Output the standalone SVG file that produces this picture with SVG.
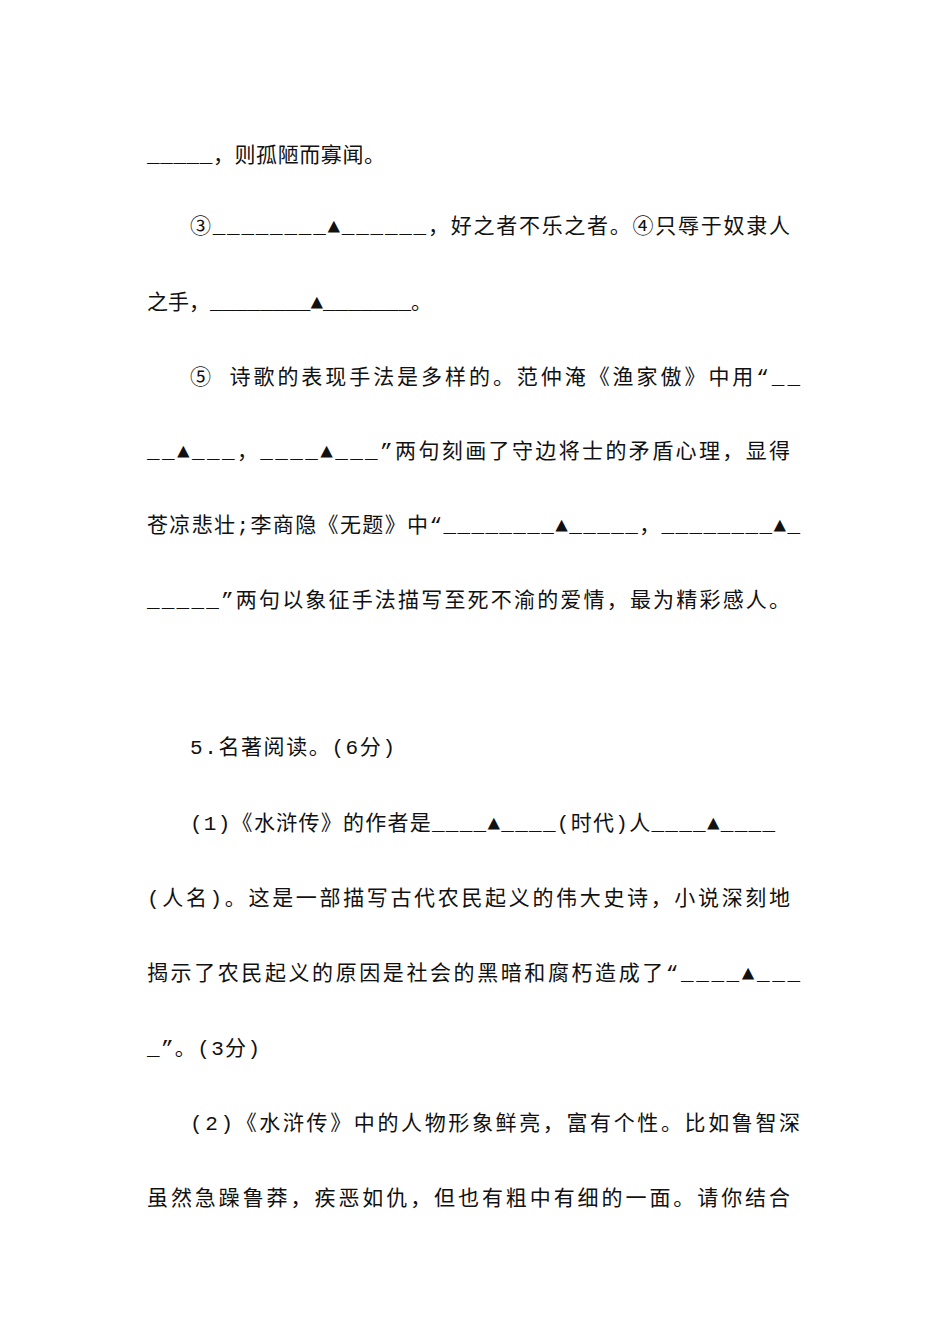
<svg xmlns="http://www.w3.org/2000/svg" width="950" height="1344" viewBox="0 0 950 1344">
<style>
text{font-family:"Liberation Mono","Noto Sans CJK SC",monospace;font-size:21px;fill:#111;}
</style>
<rect width="950" height="1344" fill="#fff"/>
<text x="147" y="162" textLength="238" lengthAdjust="spacing">_____，则孤陋而寡闻。</text>
<text x="190" y="233" textLength="600" lengthAdjust="spacing">③________▲______，好之者不乐之者。④只辱于奴隶人</text>
<text x="147" y="309" textLength="285" lengthAdjust="spacing">之手，________▲_______。</text>
<text x="190" y="384" textLength="610" lengthAdjust="spacing">⑤ 诗歌的表现手法是多样的。范仲淹《渔家傲》中用“__</text>
<text x="147" y="458" textLength="643" lengthAdjust="spacing">__▲___，____▲___”两句刻画了守边将士的矛盾心理，显得</text>
<text x="147" y="532" textLength="653" lengthAdjust="spacing">苍凉悲壮;李商隐《无题》中“________▲_____，________▲_</text>
<text x="147" y="607" textLength="643" lengthAdjust="spacing">_____”两句以象征手法描写至死不渝的爱情，最为精彩感人。</text>
<text x="190" y="754" textLength="205" lengthAdjust="spacing">5.名著阅读。(6分)</text>
<text x="190" y="830" textLength="585" lengthAdjust="spacing">(1)《水浒传》的作者是____▲____(时代)人____▲____</text>
<text x="147" y="905" textLength="643" lengthAdjust="spacing">(人名)。这是一部描写古代农民起义的伟大史诗，小说深刻地</text>
<text x="147" y="980" textLength="653" lengthAdjust="spacing">揭示了农民起义的原因是社会的黑暗和腐朽造成了“____▲___</text>
<text x="147" y="1055" textLength="113" lengthAdjust="spacing">_”。(3分)</text>
<text x="190" y="1130" textLength="610" lengthAdjust="spacing">(2)《水浒传》中的人物形象鲜亮，富有个性。比如鲁智深</text>
<text x="147" y="1205" textLength="643" lengthAdjust="spacing">虽然急躁鲁莽，疾恶如仇，但也有粗中有细的一面。请你结合</text>
</svg>
